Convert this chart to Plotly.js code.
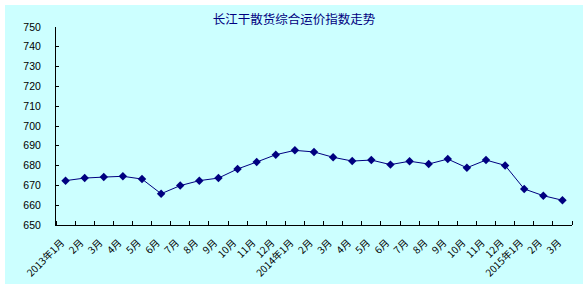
<!DOCTYPE html>
<html>
<head>
<meta charset="utf-8">
<script src="https://cdn.plot.ly/plotly-3.0.1.min.js"></script>
<style>
html,body{margin:0;padding:0;background:#ffffff;}
#chart{position:absolute;left:5px;top:5px;width:578px;height:279px;}
</style>
</head>
<body>
<div id="chart"></div>
<script>
var categories = ["2013年1月","2月","3月","4月","5月","6月","7月","8月","9月","10月","11月","12月",
  "2014年1月","2月","3月","4月","5月","6月","7月","8月","9月","10月","11月","12月",
  "2015年1月","2月","3月"];
var indexValues = [672.4,673.7,674.2,674.6,673.2,665.8,669.9,672.4,673.7,678.3,681.8,685.5,
  687.7,686.9,684.2,682.3,682.8,680.5,682.2,680.8,683.3,678.9,682.8,680.1,
  668.2,664.8,662.5];
var yTicks = [650,660,670,680,690,700,710,720,730,740,750];

var idx = categories.map(function(_, i){ return i; });
var bounds = [];
for (var i = 0; i <= categories.length; i++) bounds.push(i - 0.5);

var trace = {
  x: idx, y: indexValues, type: 'scatter', mode: 'lines+markers',
  line: {color: '#000080', width: 1},
  marker: {symbol: 'diamond', size: 6.5, color: '#000080'},
  hoverinfo: 'skip'
};

var layout = {
  width: 578, height: 279,
  paper_bgcolor: '#ccffff', plot_bgcolor: 'rgba(0,0,0,0)',
  margin: {l: 51, r: 11, t: 22, b: 59, pad: 0},
  showlegend: false,
  title: {text: '长江干散货综合运价指数走势', x: 0.5, xanchor: 'center', y: 0.946, yanchor: 'middle', yref: 'container',
    font: {family: 'Noto Sans CJK SC', size: 12.5, color: '#000080'}},
  xaxis: {
    type: 'linear', range: [-0.5, categories.length - 0.5],
    tickvals: idx, ticktext: categories, tickangle: -45,
    ticks: '', showgrid: false, zeroline: false,
    showline: true, linecolor: '#000000', linewidth: 1,
    ticklabelstandoff: 7, ticklabelshift: -4,
    tickfont: {family: 'Noto Sans CJK SC', size: 10, color: '#000000'},
    minor: {tickvals: bounds, ticks: 'inside', ticklen: 4, tickcolor: '#000000', tickwidth: 1, showgrid: false}
  },
  yaxis: {
    range: [650, 750], tickvals: yTicks, ticks: 'inside', ticklen: 3, tickcolor: '#000000',
    showgrid: false, zeroline: false, showline: true, linecolor: '#000000', linewidth: 1,
    ticklabelstandoff: 12,
    tickfont: {family: 'Liberation Sans', size: 10.5, color: '#000000'}
  }
};

Plotly.newPlot('chart', [trace], layout, {displayModeBar: false, staticPlot: true});
</script>
</body>
</html>
